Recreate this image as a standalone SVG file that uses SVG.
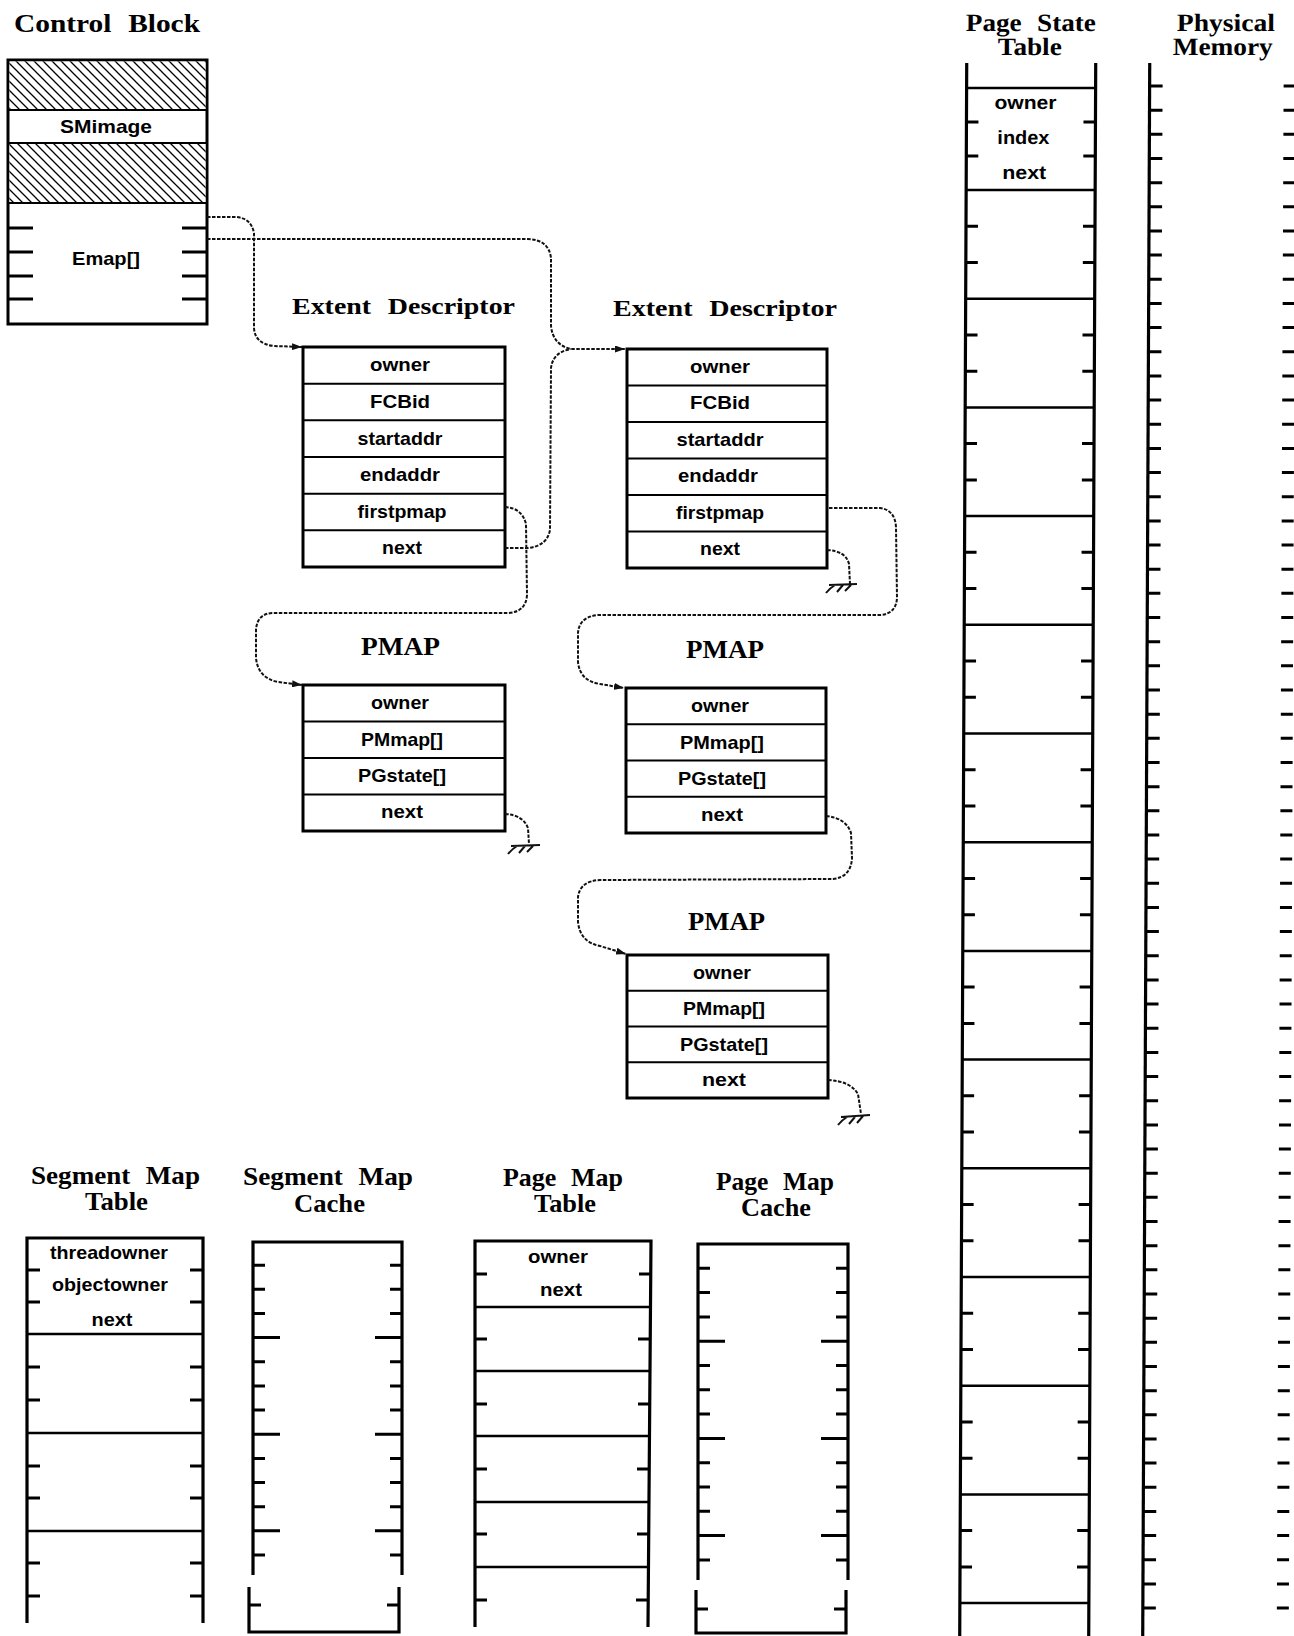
<svg xmlns="http://www.w3.org/2000/svg" width="1294" height="1636" viewBox="0 0 1294 1636">
<style>
.bg{fill:#fff}
.box{fill:#fff;stroke:#000;stroke-width:3}
.row{stroke:#000;stroke-width:2;fill:none}
.edge{stroke:#000;stroke-width:3.2;fill:none}
.tick{stroke:#000;stroke-width:3;fill:none}
.title{font-family:"Liberation Serif","Times New Roman",serif;font-weight:bold;font-size:25px;fill:#000;word-spacing:8px}
.lbl{font-family:"Liberation Sans",Arial,sans-serif;font-weight:bold;font-size:19px;text-anchor:middle;fill:#000}
.conn{fill:none;stroke:#111;stroke-width:2;stroke-dasharray:3.5 1.5}
.gnd{fill:none;stroke:#111;stroke-width:2}
</style>
<defs>
<pattern id="hatch" patternUnits="userSpaceOnUse" width="9" height="9">
<rect width="9" height="9" fill="#fff"/>
<path d="M-2,-2 L11,11 M-2,7 L2,11 M7,-2 L11,2" stroke="#000" stroke-width="1.3"/>
</pattern>
<marker id="arr" viewBox="0 0 10 7" refX="10" refY="3.5" markerWidth="10" markerHeight="7" markerUnits="userSpaceOnUse" orient="auto">
<path d="M0,0 L10,3.5 L0,7 z" fill="#111"/>
</marker>
</defs>
<rect class="bg" x="0" y="0" width="1294" height="1636"/>

<g id="control-block">
<text class="title" x="14" y="32" textLength="186" lengthAdjust="spacingAndGlyphs">Control Block</text>
<rect class="box" x="8" y="60" width="199" height="264"/>
<rect x="9.5" y="61.5" width="196" height="48.5" fill="url(#hatch)"/>
<rect x="9.5" y="143" width="196" height="60" fill="url(#hatch)"/>
<path class="row" d="M8,110 H207 M8,143 H207 M8,203 H207"/>
<path class="tick" d="M8,228 h25 M8,252 h25 M8,276 h25 M8,299 h25 M182,228 h25 M182,252 h25 M182,276 h25 M182,299 h25"/>
<text class="lbl" x="106" y="133" textLength="92" lengthAdjust="spacingAndGlyphs">SMimage</text>
<text class="lbl" x="106" y="265" textLength="68" lengthAdjust="spacingAndGlyphs">Emap[]</text>
</g>

<g id="ed1">
<text class="title" x="292" y="314" style="font-size:23px" textLength="223" lengthAdjust="spacingAndGlyphs">Extent Descriptor</text>
<rect class="box" x="303" y="347" width="202" height="220"/>
<path class="row" d="M303,383.7 H505 M303,420.3 H505 M303,457 H505 M303,493.7 H505 M303,530.3 H505"/>
<text class="lbl" x="400" y="371" textLength="60" lengthAdjust="spacingAndGlyphs">owner</text>
<text class="lbl" x="400" y="408" textLength="60" lengthAdjust="spacingAndGlyphs">FCBid</text>
<text class="lbl" x="400" y="445" textLength="85" lengthAdjust="spacingAndGlyphs">startaddr</text>
<text class="lbl" x="400" y="481" textLength="80" lengthAdjust="spacingAndGlyphs">endaddr</text>
<text class="lbl" x="402" y="518" textLength="89" lengthAdjust="spacingAndGlyphs">firstpmap</text>
<text class="lbl" x="402" y="554" textLength="40" lengthAdjust="spacingAndGlyphs">next</text>
</g>

<g id="ed2">
<text class="title" x="613" y="316" style="font-size:23px" textLength="224" lengthAdjust="spacingAndGlyphs">Extent Descriptor</text>
<rect class="box" x="627" y="349" width="200" height="219"/>
<path class="row" d="M627,385.5 H827 M627,422 H827 M627,458.5 H827 M627,495 H827 M627,531.5 H827"/>
<text class="lbl" x="720" y="373" textLength="60" lengthAdjust="spacingAndGlyphs">owner</text>
<text class="lbl" x="720" y="409" textLength="60" lengthAdjust="spacingAndGlyphs">FCBid</text>
<text class="lbl" x="720" y="446" textLength="87" lengthAdjust="spacingAndGlyphs">startaddr</text>
<text class="lbl" x="718" y="482" textLength="80" lengthAdjust="spacingAndGlyphs">endaddr</text>
<text class="lbl" x="720" y="519" textLength="88" lengthAdjust="spacingAndGlyphs">firstpmap</text>
<text class="lbl" x="720" y="555" textLength="40" lengthAdjust="spacingAndGlyphs">next</text>
</g>

<g id="pmap1">
<text class="title" x="361" y="655" style="font-size:26px" textLength="79" lengthAdjust="spacingAndGlyphs">PMAP</text>
<rect class="box" x="303" y="685" width="202" height="146"/>
<path class="row" d="M303,721.5 H505 M303,758 H505 M303,794.5 H505"/>
<text class="lbl" x="400" y="709" textLength="58" lengthAdjust="spacingAndGlyphs">owner</text>
<text class="lbl" x="402" y="746" textLength="82" lengthAdjust="spacingAndGlyphs">PMmap[]</text>
<text class="lbl" x="402" y="782" textLength="88" lengthAdjust="spacingAndGlyphs">PGstate[]</text>
<text class="lbl" x="402" y="818" textLength="42" lengthAdjust="spacingAndGlyphs">next</text>
</g>

<g id="pmap2">
<text class="title" x="686" y="658" style="font-size:26px" textLength="78" lengthAdjust="spacingAndGlyphs">PMAP</text>
<rect class="box" x="626" y="688" width="200" height="145"/>
<path class="row" d="M626,724.3 H826 M626,760.5 H826 M626,796.8 H826"/>
<text class="lbl" x="720" y="712" textLength="58" lengthAdjust="spacingAndGlyphs">owner</text>
<text class="lbl" x="722" y="749" textLength="84" lengthAdjust="spacingAndGlyphs">PMmap[]</text>
<text class="lbl" x="722" y="785" textLength="88" lengthAdjust="spacingAndGlyphs">PGstate[]</text>
<text class="lbl" x="722" y="821" textLength="42" lengthAdjust="spacingAndGlyphs">next</text>
</g>

<g id="pmap3">
<text class="title" x="688" y="930" style="font-size:26px" textLength="77" lengthAdjust="spacingAndGlyphs">PMAP</text>
<rect class="box" x="627" y="955" width="201" height="143"/>
<path class="row" d="M627,990.8 H828 M627,1026.5 H828 M627,1062.3 H828"/>
<text class="lbl" x="722" y="979" textLength="58" lengthAdjust="spacingAndGlyphs">owner</text>
<text class="lbl" x="724" y="1015" textLength="82" lengthAdjust="spacingAndGlyphs">PMmap[]</text>
<text class="lbl" x="724" y="1051" textLength="88" lengthAdjust="spacingAndGlyphs">PGstate[]</text>
<text class="lbl" x="724" y="1086" textLength="44" lengthAdjust="spacingAndGlyphs">next</text>
</g>

<g id="page-state-table" transform="skewX(-0.255)">
<text class="title" x="966" y="31" textLength="130" lengthAdjust="spacingAndGlyphs">Page State</text>
<text class="title" x="998" y="55" textLength="64" lengthAdjust="spacingAndGlyphs">Table</text>
<path class="edge" d="M967,63 V1640 M1096,63 V1640"/>
<path class="row" style="stroke-width:2.5" d="M967,88 H1096 M967,190 H1096 M967,298.7 H1096 M967,407.4 H1096 M967,516.1 H1096 M967,624.8 H1096 M967,733.5 H1096 M967,842.2 H1096 M967,950.9 H1096 M967,1059.6 H1096 M967,1168.3 H1096 M967,1277 H1096 M967,1385.7 H1096 M967,1494.4 H1096 M967,1603.1 H1096"/>
<path class="tick" d="M967,122h12 M967,156h12 M967,226.2h12 M967,262.5h12 M967,334.9h12 M967,371.2h12 M967,443.6h12 M967,479.9h12 M967,552.3h12 M967,588.6h12 M967,661h12 M967,697.3h12 M967,769.7h12 M967,806h12 M967,878.4h12 M967,914.7h12 M967,987.1h12 M967,1023.4h12 M967,1095.8h12 M967,1132.1h12 M967,1204.5h12 M967,1240.8h12 M967,1313.2h12 M967,1349.5h12 M967,1421.9h12 M967,1458.2h12 M967,1530.6h12 M967,1566.9h12"/>
<path class="tick" d="M1084,122h12 M1084,156h12 M1084,226.2h12 M1084,262.5h12 M1084,334.9h12 M1084,371.2h12 M1084,443.6h12 M1084,479.9h12 M1084,552.3h12 M1084,588.6h12 M1084,661h12 M1084,697.3h12 M1084,769.7h12 M1084,806h12 M1084,878.4h12 M1084,914.7h12 M1084,987.1h12 M1084,1023.4h12 M1084,1095.8h12 M1084,1132.1h12 M1084,1204.5h12 M1084,1240.8h12 M1084,1313.2h12 M1084,1349.5h12 M1084,1421.9h12 M1084,1458.2h12 M1084,1530.6h12 M1084,1566.9h12"/>
<text class="lbl" x="1026" y="109" textLength="62" lengthAdjust="spacingAndGlyphs">owner</text>
<text class="lbl" x="1024" y="144" textLength="52" lengthAdjust="spacingAndGlyphs">index</text>
<text class="lbl" x="1025" y="179" textLength="44" lengthAdjust="spacingAndGlyphs">next</text>
</g>

<g id="physical-memory" transform="skewX(-0.255)">
<text class="title" x="1177" y="31" textLength="98" lengthAdjust="spacingAndGlyphs">Physical</text>
<text class="title" x="1173" y="55" textLength="100" lengthAdjust="spacingAndGlyphs">Memory</text>
<path class="edge" d="M1150,63 V1640"/>
<path class="tick" d="M1150,86h13
m-13,24.16h13 m-13,24.16h13 m-13,24.16h13 m-13,24.16h13 m-13,24.16h13 m-13,24.16h13 m-13,24.16h13 m-13,24.16h13 m-13,24.16h13
m-13,24.16h13 m-13,24.16h13 m-13,24.16h13 m-13,24.16h13 m-13,24.16h13 m-13,24.16h13 m-13,24.16h13 m-13,24.16h13 m-13,24.16h13
m-13,24.16h13 m-13,24.16h13 m-13,24.16h13 m-13,24.16h13 m-13,24.16h13 m-13,24.16h13 m-13,24.16h13 m-13,24.16h13 m-13,24.16h13
m-13,24.16h13 m-13,24.16h13 m-13,24.16h13 m-13,24.16h13 m-13,24.16h13 m-13,24.16h13 m-13,24.16h13 m-13,24.16h13 m-13,24.16h13
m-13,24.16h13 m-13,24.16h13 m-13,24.16h13 m-13,24.16h13 m-13,24.16h13 m-13,24.16h13 m-13,24.16h13 m-13,24.16h13 m-13,24.16h13
m-13,24.16h13 m-13,24.16h13 m-13,24.16h13 m-13,24.16h13 m-13,24.16h13 m-13,24.16h13 m-13,24.16h13 m-13,24.16h13 m-13,24.16h13
m-13,24.16h13 m-13,24.16h13 m-13,24.16h13 m-13,24.16h13 m-13,24.16h13 m-13,24.16h13 m-13,24.16h13 m-13,24.16h13 m-13,24.16h13"/>
<path class="tick" d="M1284,86h12
m-12,24.16h12 m-12,24.16h12 m-12,24.16h12 m-12,24.16h12 m-12,24.16h12 m-12,24.16h12 m-12,24.16h12 m-12,24.16h12 m-12,24.16h12
m-12,24.16h12 m-12,24.16h12 m-12,24.16h12 m-12,24.16h12 m-12,24.16h12 m-12,24.16h12 m-12,24.16h12 m-12,24.16h12 m-12,24.16h12
m-12,24.16h12 m-12,24.16h12 m-12,24.16h12 m-12,24.16h12 m-12,24.16h12 m-12,24.16h12 m-12,24.16h12 m-12,24.16h12 m-12,24.16h12
m-12,24.16h12 m-12,24.16h12 m-12,24.16h12 m-12,24.16h12 m-12,24.16h12 m-12,24.16h12 m-12,24.16h12 m-12,24.16h12 m-12,24.16h12
m-12,24.16h12 m-12,24.16h12 m-12,24.16h12 m-12,24.16h12 m-12,24.16h12 m-12,24.16h12 m-12,24.16h12 m-12,24.16h12 m-12,24.16h12
m-12,24.16h12 m-12,24.16h12 m-12,24.16h12 m-12,24.16h12 m-12,24.16h12 m-12,24.16h12 m-12,24.16h12 m-12,24.16h12 m-12,24.16h12
m-12,24.16h12 m-12,24.16h12 m-12,24.16h12 m-12,24.16h12 m-12,24.16h12 m-12,24.16h12 m-12,24.16h12 m-12,24.16h12 m-12,24.16h12"/>
</g>

<g id="segment-map-table">
<text class="title" x="31" y="1184" textLength="169" lengthAdjust="spacingAndGlyphs">Segment Map</text>
<text class="title" x="85" y="1210" textLength="63" lengthAdjust="spacingAndGlyphs">Table</text>
<path class="edge" d="M27,1623 V1238 H203 V1623"/>
<path class="row" style="stroke-width:2.5" d="M27,1334 H203 M27,1433 H203 M27,1531 H203"/>
<path class="tick" d="M27,1270h13 M27,1302h13 M27,1367h13 M27,1400h13 M27,1466h13 M27,1498h13 M27,1563h13 M27,1596h13 M190,1270h13 M190,1302h13 M190,1367h13 M190,1400h13 M190,1466h13 M190,1498h13 M190,1563h13 M190,1596h13"/>
<text class="lbl" x="109" y="1259" textLength="118" lengthAdjust="spacingAndGlyphs">threadowner</text>
<text class="lbl" x="110" y="1291" textLength="116" lengthAdjust="spacingAndGlyphs">objectowner</text>
<text class="lbl" x="112" y="1326" textLength="41" lengthAdjust="spacingAndGlyphs">next</text>
</g>

<g id="segment-map-cache">
<text class="title" x="243" y="1185" textLength="170" lengthAdjust="spacingAndGlyphs">Segment Map</text>
<text class="title" x="294" y="1212" textLength="71" lengthAdjust="spacingAndGlyphs">Cache</text>
<path class="edge" d="M253,1575 V1242 H402 V1575 M249,1587 V1632 H399 V1587"/>
<path class="tick" d="M253,1265.2h12 M253,1289.3h12 M253,1313.5h12 M253,1337.6h27 M253,1361.8h12 M253,1385.9h12 M253,1410.1h12 M253,1434.2h27 M253,1458.4h12 M253,1482.5h12 M253,1506.7h12 M253,1530.8h27 M253,1555h12 M249,1605h12"/>
<path class="tick" d="M390,1265.2h12 M390,1289.3h12 M390,1313.5h12 M375,1337.6h27 M390,1361.8h12 M390,1385.9h12 M390,1410.1h12 M375,1434.2h27 M390,1458.4h12 M390,1482.5h12 M390,1506.7h12 M375,1530.8h27 M390,1555h12 M387,1605h12"/>
</g>

<g id="page-map-table">
<text class="title" x="503" y="1186" textLength="120" lengthAdjust="spacingAndGlyphs">Page Map</text>
<text class="title" x="534" y="1212" textLength="62" lengthAdjust="spacingAndGlyphs">Table</text>
<path class="edge" d="M475,1627 V1241 H651 L648,1627"/>
<path class="row" style="stroke-width:2.5" d="M475,1307 H651 M475,1371 H650 M475,1436 H650 M475,1502 H649 M475,1567 H649"/>
<path class="tick" d="M475,1274h12 M475,1339h12 M475,1404h12 M475,1469h12 M475,1534h12 M475,1600h12 M639,1274h12 M638,1339h12 M638,1404h12 M637,1469h12 M637,1534h12 M636,1600h12"/>
<text class="lbl" x="558" y="1263" textLength="60" lengthAdjust="spacingAndGlyphs">owner</text>
<text class="lbl" x="561" y="1296" textLength="42" lengthAdjust="spacingAndGlyphs">next</text>
</g>

<g id="page-map-cache">
<text class="title" x="716" y="1190" textLength="118" lengthAdjust="spacingAndGlyphs">Page Map</text>
<text class="title" x="741" y="1216" textLength="70" lengthAdjust="spacingAndGlyphs">Cache</text>
<path class="edge" d="M698,1580 V1244 H848 V1580 M696,1590 V1633 H846 V1590"/>
<path class="tick" d="M698,1268.3h12 M698,1292.6h12 M698,1316.9h12 M698,1341.2h27 M698,1365.5h12 M698,1389.8h12 M698,1414.1h12 M698,1438.4h27 M698,1462.7h12 M698,1487h12 M698,1511.3h12 M698,1535.6h27 M698,1559.9h12 M696,1609h12"/>
<path class="tick" d="M836,1268.3h12 M836,1292.6h12 M836,1316.9h12 M821,1341.2h27 M836,1365.5h12 M836,1389.8h12 M836,1414.1h12 M821,1438.4h27 M836,1462.7h12 M836,1487h12 M836,1511.3h12 M821,1535.6h27 M836,1559.9h12 M834,1609h12"/>
</g>

<g id="connectors">
<path class="conn" marker-end="url(#arr)" d="M207,217 L236,217 Q251,218 254,233 L254,328 Q255,344 274,346 L302,347"/>
<path class="conn" marker-end="url(#arr)" d="M207,239 L528,239 Q549,240 551,258 L551,326 Q553,345 571,349 L625,349"/>
<path class="conn" d="M505,548 L528,548 Q547,546 550,530 L551,368 Q553,352 571,349"/>
<path class="conn" marker-end="url(#arr)" d="M505,507 Q522,508 526,524 L527,595 Q526,612 508,613 L272,613 Q257,614 256,630 L256,658 Q258,678 278,682 L302,685"/>
<path class="conn" marker-end="url(#arr)" d="M829,508 L880,508 Q895,510 896,527 L897,598 Q896,614 880,615 L598,615 Q579,617 578,633 L578,662 Q580,681 600,684 L624,688"/>
<path class="conn" d="M827,550 Q846,551 849,564 L850,584"/>
<path class="gnd" d="M829,585 L857,584 M835,585 Q830,588 826,593 M843,585 L837,592 M851,585 L845,591"/>
<path class="conn" d="M505,814 Q523,815 528,828 L529,844"/>
<path class="gnd" d="M511,846 L540,845 M517,846 Q512,849 508,854 M525,846 L519,853 M533,846 L527,852"/>
<path class="conn" marker-end="url(#arr)" d="M826,816 Q846,818 851,833 L852,858 Q851,877 833,879 L600,880 Q580,881 578,897 L578,922 Q580,942 600,946 L626,954"/>
<path class="conn" d="M828,1080 Q850,1081 858,1094 L861,1114"/>
<path class="gnd" d="M841,1117 L870,1115 M847,1117 Q842,1120 838,1125 M855,1117 L849,1124 M863,1116 L857,1123"/>
</g>
</svg>
